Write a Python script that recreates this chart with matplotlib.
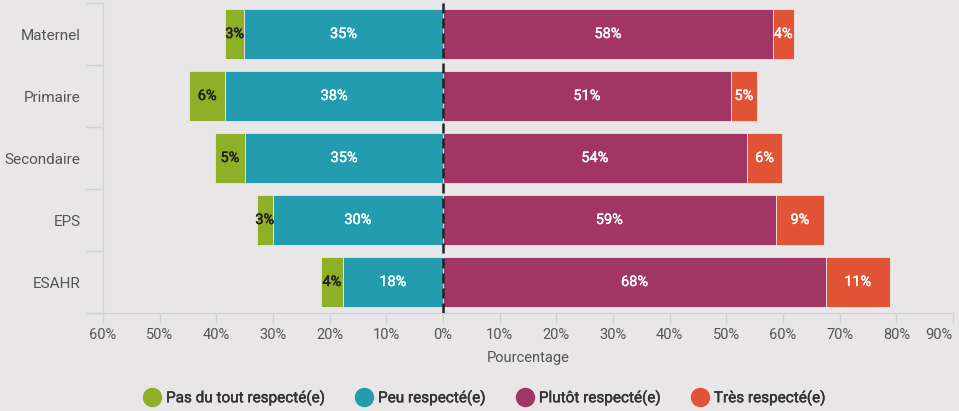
import matplotlib
matplotlib.use("Agg")
import matplotlib.pyplot as plt
import matplotlib.patheffects as pe
from matplotlib.lines import Line2D
import numpy as np

plt.rcParams['font.family'] = ['Roboto', 'DejaVu Sans']

categories = ["Maternel", "Primaire", "Secondaire", "EPS", "ESAHR"]
series_names = ["Pas du tout respecté(e)", "Peu respecté(e)", "Plutôt respecté(e)", "Très respecté(e)"]
pas_du_tout = [3.3, 6.4, 5.4, 2.9, 3.8]
peu = [35.1, 38.4, 34.9, 30.0, 17.7]
plutot = [58.2, 50.8, 53.6, 58.7, 67.6]
tres = [3.7, 4.6, 6.3, 8.6, 11.2]
xticks = [-60, -50, -40, -30, -20, -10, 0, 10, 20, 30, 40, 50, 60, 70, 80, 90]
xticklabels = ["60%", "50%", "40%", "30%", "20%", "10%", "0%", "10%", "20%", "30%", "40%", "50%", "60%", "70%", "80%", "90%"]

colors = ["#8db026", "#229cae", "#a13665", "#e05335"]
bg = "#e8e6e7"
textc = "#555555"

fig = plt.figure(figsize=(9.59, 4.11), dpi=100, facecolor=bg)
ax = fig.add_axes([103/959, 1-313/411, 850/959, 310/411])
ax.set_facecolor(bg)

y = np.arange(len(categories))
h = 0.82
peu_a = np.array(peu)
pas_a = np.array(pas_du_tout)
plu_a = np.array(plutot)
tre_a = np.array(tres)

ax.barh(y, -peu_a, height=h, color=colors[1], edgecolor=bg, linewidth=0.6)
ax.barh(y, -pas_a, left=-peu_a, height=h, color=colors[0], edgecolor=bg, linewidth=0.6)
ax.barh(y, plu_a, height=h, color=colors[2], edgecolor=bg, linewidth=0.6)
ax.barh(y, tre_a, left=plu_a, height=h, color=colors[3], edgecolor=bg, linewidth=0.6)

fs = 10.5
def lab(x, yy, s, c):
    t = ax.text(x, yy, s, ha='center', va='center', color=c, fontsize=fs)
    t.set_path_effects([pe.withStroke(linewidth=0.25, foreground=c)])

for i in range(len(categories)):
    lab(-peu_a[i]/2, y[i], f"{round(peu_a[i])}%", 'white')
    lab(-peu_a[i]-pas_a[i]/2, y[i], f"{round(pas_a[i])}%", '#1e1e1e')
    lab(plu_a[i]/2, y[i], f"{round(plu_a[i])}%", 'white')
    lab(plu_a[i]+tre_a[i]/2, y[i], f"{round(tre_a[i])}%", 'white')

ax.axvline(0, color='#222222', linestyle=(0, (4, 2)), linewidth=1.8, zorder=5)

ax.set_xlim(-60, 90)
ax.set_ylim(4.5, -0.5)
ax.set_xticks(xticks)
ax.set_xticklabels(xticklabels, fontsize=10.5, color=textc)
labs = ax.get_xticklabels()
labs[-1].set_horizontalalignment('right')
labs[-1].set_x(89.9)
ax.set_yticks(y)
ax.set_yticklabels(categories, fontsize=11, color=textc)
ax.set_yticks(np.arange(-0.5, 5.0, 1.0), minor=True)
ax.tick_params(axis='y', which='major', length=0, pad=16)
ax.tick_params(axis='y', which='minor', length=12, color='#c9d3e0', width=1)
ax.tick_params(axis='x', which='major', length=7, color='#c9d3e0', width=1, pad=4)

for s in ['top', 'right']:
    ax.spines[s].set_visible(False)
ax.spines['left'].set_color('#c9d3e0')
ax.spines['bottom'].set_color('#c9d3e0')
ax.spines['bottom'].set_bounds(-62.1, 90)

ax.set_xlabel("Pourcentage", fontsize=10.5, color=textc, labelpad=6)

handles = [Line2D([0], [0], marker='o', color='none', markerfacecolor=c, markeredgecolor=c, markersize=13) for c in colors]
leg = fig.legend(handles, series_names, loc='center', bbox_to_anchor=(0.505, 1-398/411), ncol=4, frameon=False,
                 fontsize=11, labelcolor='#333333', handletextpad=0.3, columnspacing=2.0, handlelength=1.2)
for t in leg.get_texts():
    t.set_path_effects([pe.withStroke(linewidth=0.3, foreground='#333333')])

fig.savefig("out.png", dpi=100, facecolor=bg)
